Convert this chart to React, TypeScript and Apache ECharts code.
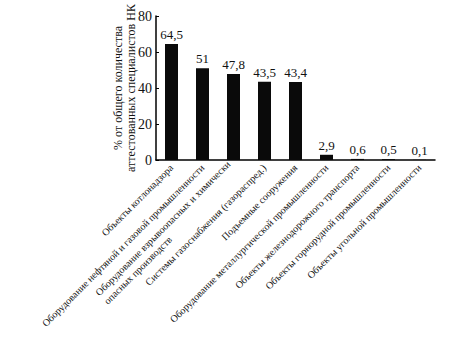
import React, { useEffect, useRef } from "react";
import * as echarts from "echarts";

const categories = [
  "Объекты котлонадзора",
  "Оборудование нефтяной и газовой промышленности",
  "Оборудование взрывоопасных и химически\nопасных производств",
  "Системы газоснабжения (газораспред.)",
  "Подъемные сооружения",
  "Оборудование металлургической промышленности",
  "Объекты железнодорожного транспорта",
  "Объекты горнорудной промышленности",
  "Объекты угольной промышленности",
];
const values = [64.5, 51, 47.8, 43.5, 43.4, 2.9, 0.6, 0.5, 0.1];
const yTicks = [0, 20, 40, 60, 80];
const yName = "% от общего количества\nаттестованных специалистов НК";

const FONT = "'Liberation Serif', 'DejaVu Serif', serif";
const LABEL_SIZE = 10;

function measure(text: string, size: number): number {
  const c = document.createElement("canvas");
  const ctx = c.getContext("2d");
  if (!ctx) return text.length * size * 0.5;
  ctx.font = `${size}px ${FONT}`;
  return ctx.measureText(text).width;
}

export default function App() {
  const ref = useRef<HTMLDivElement>(null);
  useEffect(() => {
    if (!ref.current) return;
    const chart = echarts.init(ref.current, undefined, { renderer: "svg" });
    const formatter = (v: string) => {
      if (v.indexOf("\n") < 0) return v;
      const lines = v.split("\n");
      return lines.map((l) => `{l|${l}}`).join("\n");
    };
    const multi = categories.find((c) => c.indexOf("\n") >= 0) || "";
    const firstLine = multi.split("\n")[0];
    const w = Math.ceil(measure(firstLine, LABEL_SIZE));
    chart.setOption({
      animation: false,
      backgroundColor: "#fff",
      textStyle: { fontFamily: FONT, color: "#000" },
      grid: { left: 156, right: 20, top: 16, bottom: 197, containLabel: false },
      xAxis: {
        type: "category",
        data: categories,
        axisLine: { lineStyle: { color: "#000", width: 1.5 } },
        axisTick: { show: false },
        axisLabel: {
          rotate: 45,
          interval: 0,
          fontSize: LABEL_SIZE,
          fontFamily: FONT,
          color: "#111",
          margin: 6,
          formatter,
          rich: {
            l: {
              width: w,
              align: "left",
              fontSize: LABEL_SIZE,
              fontFamily: FONT,
              color: "#111",
              lineHeight: 12,
            },
          },
        },
      },
      yAxis: {
        type: "value",
        min: yTicks[0],
        max: yTicks[yTicks.length - 1],
        interval: 20,
        name: yName,
        nameLocation: "middle",
        nameGap: 19,
        nameMoveOverlap: false,
        nameRotate: 90,
        nameTextStyle: { fontFamily: FONT, fontSize: 12, color: "#111", lineHeight: 13 },
        axisLine: { show: true, lineStyle: { color: "#000", width: 1.5 } },
        axisTick: { show: true, inside: true, length: 3, lineStyle: { color: "#000" } },
        splitLine: { show: false },
        axisLabel: { fontSize: 14, fontFamily: FONT, color: "#111", margin: 4 },
      },
      series: [
        {
          type: "bar",
          data: values,
          barWidth: 13,
          itemStyle: { color: "#0a0a0a" },
          label: {
            show: true,
            position: "top",
            distance: 3,
            fontSize: 13,
            fontFamily: FONT,
            color: "#111",
            formatter: (p: any) => String(p.value).replace(".", ","),
          },
        },
      ],
    });
    return () => chart.dispose();
  }, []);
  return <div ref={ref} style={{ width: 455, height: 357, position: "absolute", left: 0, top: 0 }} />;
}
